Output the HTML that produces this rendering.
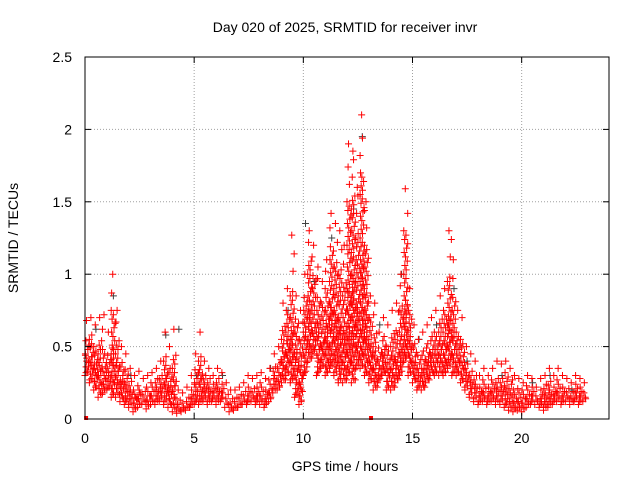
<!DOCTYPE html>
<html><head><meta charset="utf-8"><style>
body{margin:0;background:#fff}
svg{display:block;font-family:"Liberation Sans",sans-serif}
</style></head><body>
<svg id="c" width="640" height="480">
<rect x="0" y="0" width="640" height="480" fill="#fff"/>
<text x="345" y="32" font-size="14" text-anchor="middle">Day 020 of 2025, SRMTID for receiver invr</text>
<text x="345" y="471" font-size="14" text-anchor="middle">GPS time / hours</text>
<text transform="translate(18,238) rotate(-90)" font-size="14" text-anchor="middle">SRMTID / TECUs</text>
<g id="grid"></g><g id="marks"></g><g id="axes"></g>
</svg>
<script>
const hours=[0,0.2,0.4,0.6,0.8,1,1.2,1.4,1.6,1.8,2,2.2,2.4,2.6,2.8,3,3.2,3.4,3.6,3.8,4,4.2,4.4,4.6,4.8,5,5.2,5.4,5.6,5.8,6,6.2,6.4,6.6,6.8,7,7.2,7.4,7.6,7.8,8,8.2,8.4,8.6,8.8,9,9.2,9.4,9.6,9.8,10,10.2,10.4,10.6,10.8,11,11.2,11.4,11.6,11.8,12,12.2,12.4,12.6,12.8,13,13.2,13.4,13.6,13.8,14,14.2,14.4,14.6,14.8,15,15.2,15.4,15.6,15.8,16,16.2,16.4,16.6,16.8,17,17.2,17.4,17.6,17.8,18,18.2,18.4,18.6,18.8,19,19.2,19.4,19.6,19.8,20,20.2,20.4,20.6,20.8,21,21.2,21.4,21.6,21.8,22,22.2,22.4,22.6,22.8];
const highVals=[.68,.7,.65,.7,.72,.6,1.0,.75,.5,.45,.35,.3,.33,.28,.3,.32,.35,.4,.6,.5,.62,.2,.18,.22,.3,.45,.6,.4,.35,.3,.35,.32,.25,.2,.2,.22,.25,.3,.28,.3,.32,.28,.35,.45,.5,.8,.9,1.27,.85,.75,1.0,1.3,1.2,1.05,.95,1.1,1.42,1.35,1.3,1.2,1.9,1.85,1.6,2.1,1.5,.85,.8,.6,.7,.65,.75,.8,1.0,1.59,.9,.65,.55,.6,.65,.7,.75,.85,.9,1.3,1.1,.75,.7,.5,.45,.4,.3,.35,.3,.35,.4,.38,.4,.35,.3,.28,.25,.3,.28,.22,.28,.3,.35,.3,.35,.3,.28,.25,.3,.28,.25];
const upperVals=[.55,.6,.5,.55,.5,.45,.75,.55,.4,.35,.28,.22,.25,.2,.22,.25,.28,.3,.45,.35,.45,.15,.12,.16,.22,.35,.45,.3,.28,.25,.28,.25,.18,.15,.15,.17,.2,.22,.22,.24,.25,.22,.28,.38,.42,.65,.75,.9,.7,.55,.85,1.1,1.0,.85,.8,.9,1.2,1.1,1.05,.95,1.5,1.55,1.3,1.7,1.2,.7,.6,.5,.58,.52,.6,.62,.8,1.3,.75,.52,.45,.48,.52,.58,.62,.7,.75,1.0,.85,.62,.55,.4,.35,.32,.24,.27,.24,.27,.3,.3,.32,.28,.22,.22,.2,.24,.22,.18,.22,.24,.28,.24,.28,.24,.22,.2,.24,.22,.2];
const midVals=[.45,.45,.38,.4,.35,.32,.5,.4,.28,.25,.2,.15,.18,.15,.16,.18,.2,.22,.3,.22,.3,.1,.08,.11,.16,.25,.32,.22,.2,.18,.2,.18,.13,.1,.1,.12,.15,.16,.17,.18,.18,.16,.2,.28,.32,.5,.55,.6,.45,.35,.6,.75,.7,.6,.55,.65,.8,.75,.7,.6,.9,1.0,.8,1.1,.8,.5,.42,.38,.45,.4,.45,.45,.55,.85,.55,.4,.33,.35,.4,.45,.48,.52,.55,.7,.6,.48,.42,.3,.26,.22,.17,.2,.17,.2,.2,.2,.22,.18,.14,.15,.13,.17,.16,.14,.15,.16,.2,.17,.2,.18,.16,.15,.18,.17,.16];
const lowVals=[.3,.25,.2,.15,.18,.2,.15,.15,.12,.1,.08,.05,.08,.1,.07,.1,.1,.12,.1,.08,.05,.04,.05,.06,.08,.1,.1,.12,.1,.12,.1,.12,.08,.05,.06,.08,.1,.1,.12,.1,.1,.08,.12,.18,.2,.25,.3,.25,.15,.1,.3,.4,.45,.3,.35,.3,.35,.3,.25,.25,.3,.25,.35,.35,.3,.25,.2,.25,.3,.2,.2,.25,.3,.4,.3,.25,.2,.2,.25,.3,.3,.3,.3,.35,.3,.3,.25,.2,.15,.12,.1,.12,.1,.12,.1,.1,.08,.06,.05,.06,.05,.08,.1,.1,.08,.06,.08,.1,.12,.1,.12,.1,.12,.1,.12];
const grayHours=[0.5,1.3,2.1,3.7,4.3,5.1,6.3,8.5,9.3,10.1,10.5,11.3,12.3,12.7,13.5,14.5,15.3,16.1,16.9,17.5,19.1,20.5,21.3,22.3];
const grayVals=[.62,.85,.3,.58,.62,.3,.3,.35,.75,1.35,.95,1.25,1.45,1.95,.65,1.0,.55,.65,.9,.4,.3,.25,.3,.2];
const xTicks=[0,5,10,15,20];
const yTicks=[0,0.5,1,1.5,2,2.5];
const yTickLabels=["0","0.5","1","1.5","2","2.5"];
const X0=85,X1=609,Y0=419,Y1=57,XMAX=24,YMAX=2.5;
const xs=v=>X0+(X1-X0)*v/XMAX, ys=v=>Y0-(Y0-Y1)*v/YMAX;
const NS="http://www.w3.org/2000/svg";
function mk(tag,attrs,parent){const e=document.createElementNS(NS,tag);for(const k in attrs)e.setAttribute(k,attrs[k]);parent.appendChild(e);return e;}
const grid=document.getElementById('grid'),marks=document.getElementById('marks'),axes=document.getElementById('axes');
xTicks.forEach(t=>{
 if(t>0){const g=mk('line',{x1:xs(t),x2:xs(t),y1:Y0,y2:Y1,stroke:'#a0a0a0','stroke-dasharray':'1,2'},grid);
 
 }
 const l=mk('text',{x:xs(t),y:443,'font-size':14,'text-anchor':'middle'},axes);l.textContent=t;
 
 
 mk('line',{x1:xs(t),x2:xs(t),y1:Y0,y2:Y0-6,stroke:'#000'},axes);
 mk('line',{x1:xs(t),x2:xs(t),y1:Y1,y2:Y1+6,stroke:'#000'},axes);
});
yTicks.forEach((t,i)=>{
 if(t>0&&t<YMAX){const g=mk('line',{x1:X0,x2:X1,y1:ys(t),y2:ys(t),stroke:'#a0a0a0','stroke-dasharray':'1,2'},grid);
 
 }
 const l=mk('text',{x:72,y:ys(t)+5,'font-size':14,'text-anchor':'end'},axes);l.textContent=yTickLabels[i];
 
 
 mk('line',{x1:X0,x2:X0+6,y1:ys(t),y2:ys(t),stroke:'#000'},axes);
 mk('line',{x1:X1,x2:X1-6,y1:ys(t),y2:ys(t),stroke:'#000'},axes);
});
const frame=mk('rect',{x:X0,y:Y1,width:X1-X0,height:Y0-Y1,fill:'none',stroke:'#000'},axes);


function plus(x,y,col,name){
 const p=mk('path',{d:`M${x-3.5},${y}h7M${x},${y-3.5}v7`,stroke:col,'stroke-width':1,fill:'none'},marks);
 
 
}
grayHours.forEach((h,i)=>plus(xs(h),ys(grayVals[i]),'#404040','gray-point'));
const offs=[0,0.11,0.05,0.16,0.08,0.02,0.13,0.18,0.04,0.1];
hours.forEach((h,i)=>{
 const lo=lowVals[i],up=upperVals[i],hi=highVals[i];
 let k=0;
 for(let v=lo;v<=up+1e-6;v+=0.03){plus(xs(h+offs[k%offs.length]),ys(v),'#ff0000','srmtid-point');k++;}
 for(let v=lo+0.02;v<=midVals[i]+1e-6;v+=0.04){plus(xs(h+offs[(k+3)%offs.length]),ys(v),'#ff0000','srmtid-point');k++;}
 for(let v=up+0.12;v<hi-0.05;v+=0.12){plus(xs(h+offs[(k+5)%offs.length]),ys(v),'#ff0000','srmtid-point');k++;}
 plus(xs(h+0.07),ys(hi),'#ff0000','srmtid-point');
});
[0.05,13.1].forEach(h=>{const r=mk('rect',{x:xs(h)-2,y:Y0-3,width:4,height:4,fill:'#ff0000'},marks);
 
 });
</script>
</body></html>
